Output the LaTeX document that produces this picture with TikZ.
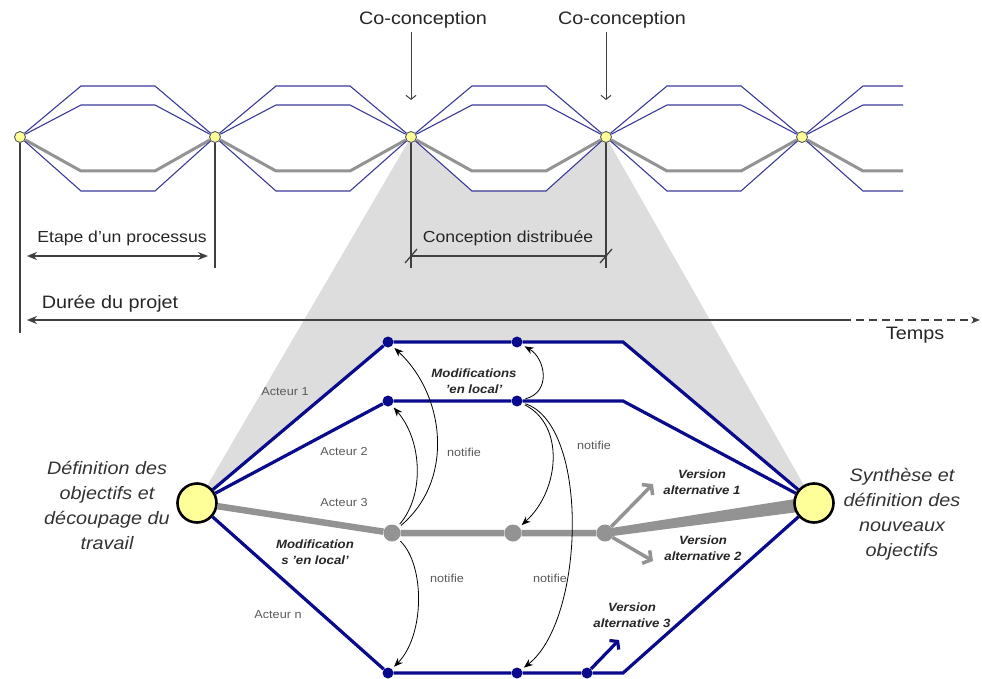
\documentclass[tikz,border=0pt]{standalone}
\usepackage{fontspec}
\setmainfont{Liberation Sans}[FakeStretch=1.1]
\usetikzlibrary{arrows.meta,backgrounds}

\definecolor{lanecol}{HTML}{3A3A9A}
\definecolor{actcol}{HTML}{0A0A8C}
\definecolor{hubfill}{HTML}{FFFF99}
\definecolor{shadecol}{HTML}{DDDDDD}
\definecolor{txtgray}{HTML}{333333}

\tikzset{
  hub/.style={circle, draw=black!65, fill=hubfill, line width=0.9pt, inner sep=0pt, minimum size=11pt},
  bighub/.style={circle, draw=black, fill=hubfill, line width=2.6pt, inner sep=0pt, minimum size=39pt},
  lane/.style={draw=lanecol, line width=1.1pt},
  mainlane/.style={draw=gray!85, line width=3pt},
  guide/.style={draw=black!75, line width=1.3pt},
  actor/.style={draw=actcol, line width=3.2pt},
  glane/.style={draw=gray!85, line width=6.5pt},
  dot/.style={circle, fill=actcol, inner sep=0pt, minimum size=11pt},
  gdot/.style={circle, fill=gray!85, inner sep=0pt, minimum size=17pt},
  notify/.style={draw=black, line width=0.8pt, shorten >=3pt, shorten <=3pt, -{Stealth[length=9pt,width=7pt]}},
  barb/.style={-{Straight Barb[length=6pt,width=15pt]}},
  small/.style={text=black!65, font=\fontsize{11.5}{13}\selectfont},
  version/.style={text=black!85, align=center, font=\fontsize{12}{16}\selectfont\bfseries\itshape},
  goal/.style={text=txtgray, align=center, font=\fontsize{18}{25}\selectfont\itshape},
  caption/.style={text=black!85, font=\fontsize{18}{20}\selectfont},
}

\begin{document}
\begin{tikzpicture}[x=1pt, y=-1pt]
  \useasboundingbox (0,0) rectangle (982,679);

  % the process steps on top
  \node[hub] (t1) at (20,137)  {};
  \node[hub] (t2) at (215,137) {};
  \node[hub] (t3) at (411,137) {};
  \node[hub] (t4) at (606,137) {};
  \node[hub] (t5) at (802,137) {};

  \foreach \a/\b in {t1/t2, t2/t3, t3/t4, t4/t5} {
    \draw[lane]     (\a) -- ++(61,-51) -- ++(74,0) -- (\b);
    \draw[lane]     (\a) -- ++(61,-32) -- ++(74,0) -- (\b);
    \draw[mainlane] (\a) -- ++(61,34)  -- ++(74,0) -- (\b);
    \draw[lane]     (\a) -- ++(61,54)  -- ++(74,0) -- (\b);
  }
  \draw[lane]     (t5) -- ++(61,-51) -- ++(40,0);
  \draw[lane]     (t5) -- ++(61,-32) -- ++(40,0);
  \draw[mainlane] (t5) -- ++(61,34)  -- ++(40,0);
  \draw[lane]     (t5) -- ++(61,54)  -- ++(40,0);

  \draw[guide] (t1) -- ++(0,196);
  \draw[guide] (t2) -- ++(0,131);
  \draw[guide] (t3) -- ++(0,131);
  \draw[guide] (t4) -- ++(0,131);

  % co-conception marks
  \node[caption] (cc1) at (423,20) {Co-conception};
  \node[caption] (cc2) at (622,20) {Co-conception};
  \coordinate (cc1end) at (411,100);
  \coordinate (cc2end) at (606,100);
  \draw[guide, line width=1pt, -{Straight Barb[length=4pt,width=10pt]}] (cc1.south -| cc1end) -- (cc1end);
  \draw[guide, line width=1pt, -{Straight Barb[length=4pt,width=10pt]}] (cc2.south -| cc2end) -- (cc2end);

  % dimensions
  \node[caption, font=\fontsize{16}{18}\selectfont] (etape) at (122,238) {Etape d'un processus};
  \draw[guide, {Stealth[length=10pt,width=8pt]}-{Stealth[length=10pt,width=8pt]}] (27,256) -- (208,256);

  \node[caption, font=\fontsize{16}{18}\selectfont] (distr) at (508,238) {Conception distribuée};
  \draw[guide] (411,256) -- (606,256);
  \draw[guide] (405,263) -- (417,249);
  \draw[guide] (600,263) -- (612,249);

  \node[caption] (duree) at (110,304) {Durée du projet};
  \node[caption] (temps) at (915,335) {Temps};
  \draw[guide, {Stealth[length=10pt,width=8pt]}-] (27,320) -- (843,320);
  \draw[guide, dash pattern=on 8pt off 5pt, -{Stealth[length=9pt,width=7pt]}] (843,320) -- (980,320);

  % zoom on the distributed design
  \node[bighub] (L) at (197,503) {};
  \node[bighub] (R) at (814,503) {};
  \node[dot]  (a1) at (388,342) {};
  \node[dot]  (b1) at (517,342) {};
  \node[dot]  (a2) at (388,401) {};
  \node[dot]  (b2) at (517,401) {};
  \node[gdot] (g1) at (392,533) {};
  \node[gdot] (g2) at (513,533) {};
  \node[gdot] (g3) at (605,533) {};
  \node[dot]  (n1) at (388,673) {};
  \node[dot]  (n2) at (517,673) {};
  \node[dot]  (n3) at (587,673) {};
  \coordinate (k1) at (623,342);
  \coordinate (k2) at (623,401);
  \coordinate (kn) at (623,673);

  \draw[actor] (L) -- (a1) -- (b1) -- (k1) -- (R);
  \draw[actor] (L) -- (a2) -- (b2) -- (k2) -- (R);
  \draw[actor] (L) -- (n1) -- (n2) -- (n3) -- (kn) -- (R);
  \draw[glane] (L) -- (g1) -- (g2) -- (g3);

  \coordinate (v1) at (653,484);
  \coordinate (v2) at (653,561);
  \coordinate (v3) at (619,640);
  \draw[draw=gray!85, line width=3.5pt, barb] (g3) -- (v1);
  \draw[draw=gray!85, line width=3.5pt, barb] (g3) -- (v2);
  \draw[actor, -{Straight Barb[length=5pt,width=13pt]}] (n3) -- (v3);

  \draw[notify] (g1) .. controls (455,480) and (445,395) .. (a1);
  \draw[notify] (g1) .. controls (425,495) and (422,440) .. (a2);
  \draw[notify] (b2) .. controls (552,392) and (545,358) .. (b1);
  \draw[notify] (b2) .. controls (565,425) and (560,490) .. (g2);
  \draw[notify] (b2) .. controls (590,425) and (585,620) .. (n2);
  \draw[notify] (g1) .. controls (425,565) and (425,635) .. (n1);

  \node[small] (act1) at (285,392) {Acteur 1};
  \node[small] (act2) at (344,452) {Acteur 2};
  \node[small] (act3) at (344,503) {Acteur 3};
  \node[small] (actn) at (278,615) {Acteur n};
  \node[small] (not1) at (464,452) {notifie};
  \node[small] (not2) at (594,445) {notifie};
  \node[small] (not3) at (447,578) {notifie};
  \node[small] (not4) at (550,578) {notifie};

  \node[version] (mod1) at (474,381) {Modifications\\'en local'};
  \node[version] (mod2) at (315,552) {Modification\\s 'en local'};
  \node[version] (alt1) at (702,482) {Version\\alternative 1};
  \node[version] (alt2) at (703,548) {Version\\alternative 2};
  \node[version] (alt3) at (632,615) {Version\\alternative 3};

  \node[goal] (start) at (107,505) {Définition des\\objectifs et\\découpage du\\travail};
  \node[goal] (synth) at (902,514) {Synthèse et\\définition des\\nouveaux\\objectifs};

  \begin{scope}[on background layer]
    \fill[shadecol] (t3.center) -- ++(61,54) -- ++(74,0) -- (t4.center) -- (R.center)
      -- (k1) -- (a1.center) -- (L.center) -- cycle;
    % the merged version widens towards the synthesis
    \fill[gray!85] (g3.center) ++(0,-4) -- ([yshift=7pt]R.center) -- ([yshift=-7pt]R.center)
      -- ([yshift=-4pt]g3.center) -- cycle;
  \end{scope}
\end{tikzpicture}
\end{document}
